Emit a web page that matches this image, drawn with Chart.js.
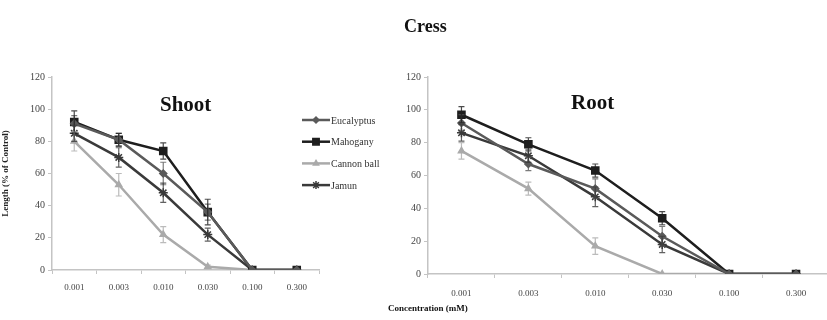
<!DOCTYPE html>
<html>
<head>
<meta charset="utf-8">
<script src="https://cdn.jsdelivr.net/npm/chart.js@4"></script>
<style>
  body { margin: 0; background: #fff; }
  #wrap { position: relative; width: 827px; height: 320px; overflow: hidden; background: #fff; font-family: "Liberation Serif", serif; }
  .box { position: absolute; }
  .txt { position: absolute; font-family: "Liberation Serif", serif; font-weight: bold; color: #111; white-space: nowrap; }
</style>
</head>
<body>
<div id="wrap">
  <div class="box" style="left:0;top:0;width:420px;height:320px;"><canvas id="shoot"></canvas></div>
  <div class="box" style="left:380px;top:0;width:456px;height:320px;"><canvas id="root"></canvas></div>
  <div class="txt" style="left:404px;top:16px;font-size:18px;">Cress</div>
  <div class="txt" style="left:160px;top:92px;font-size:21px;">Shoot</div>
  <div class="txt" style="left:571px;top:90px;font-size:21px;">Root</div>
  <div class="txt" style="left:388px;top:303px;font-size:9px;">Concentration (mM)</div>
</div>
<script>
// Cress seedling length vs concentration
const categories = ['0.001', '0.003', '0.010', '0.030', '0.100', '0.300'];
const seriesNames = ['Eucalyptus', 'Mahogany', 'Cannon ball', 'Jamun'];

// Shoot (% of control)
const shootEucalyptus = [91, 81, 60, 36, 0, 0];
const shootMahogany = [92, 81, 74, 36, 0, 0];
const shootCannonBall = [80, 53, 22, 2, 0, 0];
const shootJamun = [85, 70, 48, 22, 0, 0];
const shootEucalyptusErr = [5, 4, 7, 5, 0, 0];
const shootMahoganyErr = [7, 4, 5, 8, 0, 0];
const shootCannonBallErr = [6, 7, 5, 1, 0, 0];
const shootJamunErr = [5, 6, 6, 4, 0, 0];

// Root (% of control)
const rootEucalyptus = [92, 67, 52, 23, 0, 0];
const rootMahogany = [97, 79, 63, 34, 0, 0];
const rootCannonBall = [75, 52, 17, 0, 0, 0];
const rootJamun = [86, 72, 47, 18, 0, 0];
const rootEucalyptusErr = [5, 4, 6, 6, 0, 0];
const rootMahoganyErr = [5, 4, 4, 4, 0, 0];
const rootCannonBallErr = [5, 4, 5, 0, 0, 0];
const rootJamunErr = [5, 4, 6, 5, 0, 0];

const yTicks = [0, 20, 40, 60, 80, 100, 120];

const styles = [
  { color: '#5a5a5a', point: 'rectRot', radius: 3.5 },
  { color: '#1e1e1e', point: 'rect', radius: 5 },
  { color: '#aaaaaa', point: 'triangle', radius: 3.5 },
  { color: '#3a3a3a', point: 'star', radius: 4.5 }
];

const makeDatasets = (values, errors) => values.map((data, i) => ({
  label: seriesNames[i],
  data: data,
  errors: errors[i],
  borderColor: styles[i].color,
  backgroundColor: styles[i].color,
  pointStyle: styles[i].point,
  pointRadius: styles[i].radius,
  pointBorderWidth: 1.5,
  borderWidth: 2.5,
  tension: 0
}));

// Vertical error bars with caps
const errorBars = {
  id: 'errorBars',
  afterDatasetsDraw(chart) {
    const ctx = chart.ctx;
    const y = chart.scales.y;
    chart.data.datasets.forEach((ds, di) => {
      const meta = chart.getDatasetMeta(di);
      if (!ds.errors) return;
      ctx.save();
      ctx.strokeStyle = ds.borderColor;
      ctx.globalAlpha = 0.8;
      ctx.lineWidth = 1.2;
      meta.data.forEach((pt, i) => {
        const e = ds.errors[i];
        if (!e) return;
        const top = y.getPixelForValue(ds.data[i] + e);
        const bot = y.getPixelForValue(ds.data[i] - e);
        ctx.beginPath();
        ctx.moveTo(pt.x, top); ctx.lineTo(pt.x, bot);
        ctx.moveTo(pt.x - 3, top); ctx.lineTo(pt.x + 3, top);
        ctx.moveTo(pt.x - 3, bot); ctx.lineTo(pt.x + 3, bot);
        ctx.stroke();
      });
      ctx.restore();
    });
  }
};

// Legend drawn as line + marker, like the spreadsheet original
const sideLegend = {
  id: 'sideLegend',
  afterDraw(chart, args, opts) {
    if (!opts.show) return;
    const ctx = chart.ctx;
    chart.data.datasets.forEach((ds, i) => {
      const yy = opts.y + i * opts.gap;
      ctx.save();
      ctx.strokeStyle = ds.borderColor;
      ctx.lineWidth = 2.5;
      ctx.beginPath();
      ctx.moveTo(opts.x, yy); ctx.lineTo(opts.x + 28, yy);
      ctx.stroke();
      ctx.fillStyle = ds.backgroundColor;
      ctx.lineWidth = 1.5;
      Chart.helpers.drawPoint(ctx, { pointStyle: ds.pointStyle, radius: ds.pointRadius - 0.5, borderWidth: 1.5 }, opts.x + 14, yy);
      ctx.fillStyle = '#333';
      ctx.font = '10px "Liberation Serif"';
      ctx.textBaseline = 'middle';
      ctx.fillText(ds.label, opts.x + 29, yy + 1);
      ctx.restore();
    });
  }
};

const makeChart = (id, datasets, o) => new Chart(document.getElementById(id), {
  type: 'line',
  data: { labels: categories, datasets: datasets },
  plugins: [errorBars, sideLegend],
  options: {
    responsive: true,
    maintainAspectRatio: false,
    animation: false,
    layout: { padding: { left: 0, right: o.padRight, top: o.top, bottom: 0 } },
    plugins: {
      legend: { display: false },
      tooltip: { enabled: false },
      sideLegend: o.legend
    },
    scales: {
      x: {
        offset: true,
        afterFit: (s) => { s.height = o.xHeight; },
        grid: { display: true, drawOnChartArea: false, offset: true, tickLength: 4, color: '#c4c4c4' },
        border: { color: '#c4c4c4', width: 1.5 },
        ticks: { color: '#444', font: { family: 'Liberation Serif', size: 9 }, padding: o.xPad, maxRotation: 0 }
      },
      y: {
        min: 0,
        max: 120,
        afterFit: (s) => { s.width = o.yWidth; },
        afterBuildTicks: (s) => { s.ticks = yTicks.map(v => ({ value: v })); },
        grid: { display: true, drawOnChartArea: false, tickLength: 4, color: '#c4c4c4' },
        border: { color: '#c4c4c4', width: 1.5 },
        ticks: { color: '#444', font: { family: 'Liberation Serif', size: 10 }, padding: 3 },
        title: {
          display: o.yTitle,
          text: 'Length (% of Control)',
          color: '#222',
          font: { family: 'Liberation Serif', size: 9, weight: 'bold' },
          padding: { top: 0, bottom: 4 }
        }
      }
    }
  }
});

makeChart('shoot',
  makeDatasets([shootEucalyptus, shootMahogany, shootCannonBall, shootJamun],
    [shootEucalyptusErr, shootMahoganyErr, shootCannonBallErr, shootJamunErr]),
  { padRight: 101, top: 77, xHeight: 50, yWidth: 52, xPad: 8, yTitle: true,
    legend: { show: true, x: 302, y: 120, gap: 21.7 } });

makeChart('root',
  makeDatasets([rootEucalyptus, rootMahogany, rootCannonBall, rootJamun],
    [rootEucalyptusErr, rootMahoganyErr, rootCannonBallErr, rootJamunErr]),
  { padRight: 5, top: 77, xHeight: 46, yWidth: 48, xPad: 10, yTitle: false,
    legend: { show: false } });
</script>
</body>
</html>
